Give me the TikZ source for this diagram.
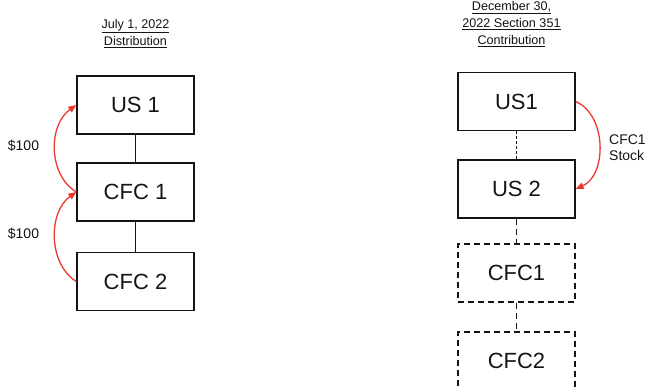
\documentclass[tikz,border=0pt]{standalone}
\usepackage{fontspec}
\setmainfont{Liberation Sans}
\usetikzlibrary{arrows.meta}
\definecolor{arrowred}{RGB}{236,56,46}
\definecolor{ink}{RGB}{20,20,20}
\begin{document}
\begin{tikzpicture}[x=1pt,y=-1pt,
  entity/.style={draw=ink,line width=1.3pt,minimum width=117pt,minimum height=58pt,inner sep=0pt,
    font=\fontsize{22}{26}\selectfont,text=ink},
  dentity/.style={entity,dash pattern=on 6pt off 4pt},
  link/.style={draw=ink,line width=1.3pt},
  thinlink/.style={draw=ink,line width=0.8pt,dash pattern=on 3pt off 2pt},
  dlink/.style={draw=ink,line width=1.3pt,dash pattern=on 6pt off 4pt},
  title/.style={align=center,font=\fontsize{12.6}{17}\selectfont,text=ink,inner sep=0pt},
  lbl/.style={font=\fontsize{14}{16}\selectfont,text=ink,inner sep=0pt},
  flow/.style={draw=arrowred,line width=1.3pt,-{Triangle[length=8pt,width=6.5pt]}}]
\useasboundingbox (0,0) rectangle (646,386);
\clip (0,0) rectangle (646,386);
% left
\node[title] (t1) at (135.5,33.5) {\underline{July 1, 2022}\\\underline{Distribution}};
\node[entity] (us1) at (135.5,105) {US 1};
\node[entity] (cfc1) at (135.5,192) {CFC 1};
\node[entity] (cfc2) at (135.5,281.5) {CFC 2};
\draw[link] (us1) -- (cfc1);
\draw[link] (cfc1) -- (cfc2);
\draw[flow] (cfc1.west) .. controls (48,175) and (48,125) .. (us1.west);
\draw[flow] (cfc2.west) .. controls (48,264) and (48,212) .. (cfc1.west);
\node[lbl] (l1) at (23.5,146) {\$100};
\node[lbl] (l2) at (23.5,234) {\$100};
% right
\node[title] (t2) at (511.5,24) {\underline{December 30,}\\\underline{2022 Section 351}\\\underline{Contribution}};
\node[entity] (rus1) at (516.5,101.5) {US1};
\node[entity] (rus2) at (516.5,189) {US 2};
\node[dentity] (rcfc1) at (516.5,273) {CFC1};
\node[dentity] (rcfc2) at (516.5,361) {CFC2};
\draw[thinlink] (rus1) -- (rus2);
\draw[dlink] (rus2) -- (rcfc1);
\draw[dlink] (rcfc1) -- (rcfc2);
\draw[flow] (rus1.east) .. controls (607,115) and (607,175) .. (rus2.east);
\node[lbl,align=left,anchor=west] (l3) at (609,148) {CFC1\\Stock};
\end{tikzpicture}
\end{document}
